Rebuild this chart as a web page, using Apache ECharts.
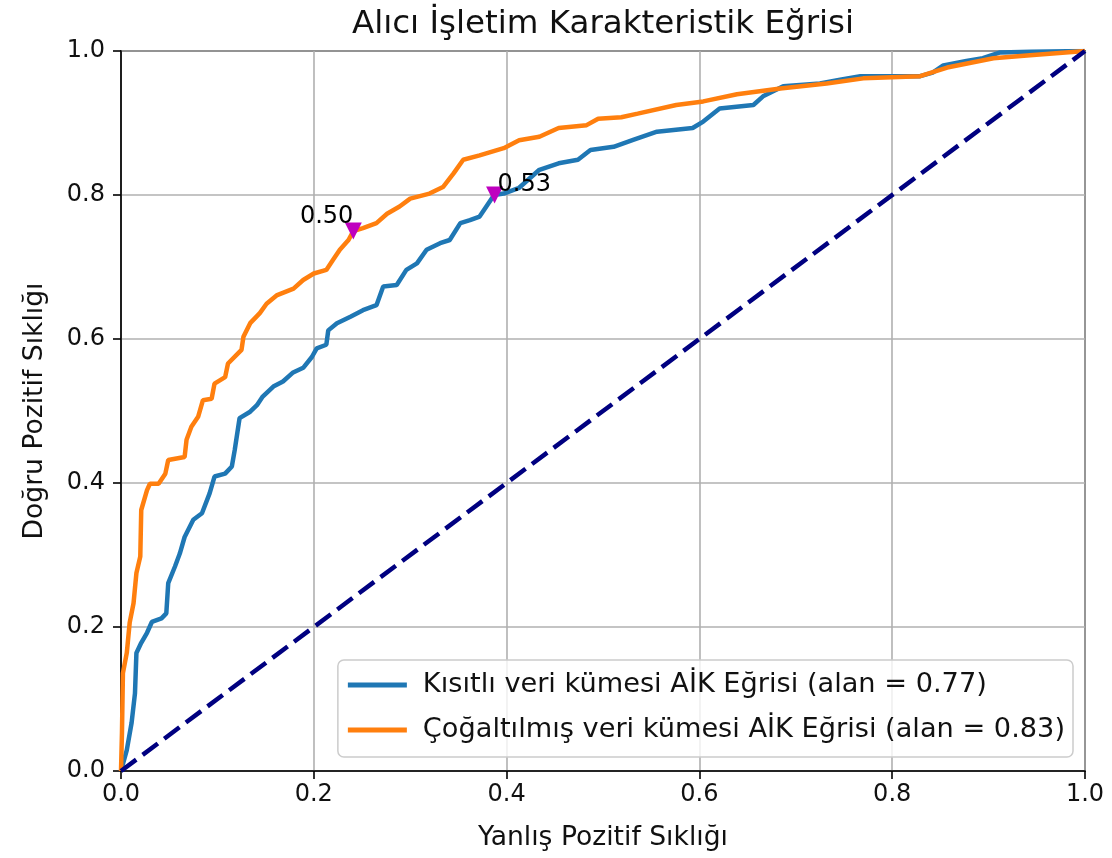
<!DOCTYPE html>
<html>
<head>
<meta charset="utf-8">
<script src="https://cdn.jsdelivr.net/npm/echarts@6/dist/echarts.min.js"></script>
<style>
html,body{margin:0;padding:0;background:#fff;}
#chart{width:1112px;height:858px;}
</style>
</head>
<body>
<div id="chart"></div>
<script>
// ---- Data ----
const titleText = 'Alıcı İşletim Karakteristik Eğrisi';
const xAxisName = 'Yanlış Pozitif Sıklığı';
const yAxisName = 'Doğru Pozitif Sıklığı';
const seriesNames = ['Kısıtlı veri kümesi AİK Eğrisi (alan = 0.77)', 'Çoğaltılmış veri kümesi AİK Eğrisi (alan = 0.83)'];

const limitedFpr = [0,0.006,0.011,0.0145,0.016,0.021,0.027,0.032,0.042,0.047,0.049,0.056,0.061,0.066,0.075,0.084,0.092,0.097,0.108,0.115,0.118,0.123,0.134,0.141,0.147,0.158,0.168,0.178,0.189,0.198,0.203,0.213,0.215,0.224,0.238,0.251,0.265,0.272,0.286,0.296,0.307,0.317,0.331,0.341,0.352,0.362,0.372,0.379,0.387,0.397,0.413,0.434,0.454,0.474,0.487,0.511,0.532,0.556,0.593,0.604,0.621,0.656,0.666,0.687,0.725,0.746,0.767,0.829,0.842,0.853,0.877,0.894,0.912,0.944,1];
const limitedTpr = [0,0.029,0.067,0.108,0.164,0.178,0.192,0.207,0.212,0.219,0.261,0.284,0.302,0.325,0.349,0.358,0.386,0.409,0.413,0.423,0.446,0.49,0.499,0.508,0.52,0.534,0.541,0.553,0.56,0.575,0.587,0.592,0.612,0.622,0.631,0.64,0.647,0.673,0.675,0.696,0.705,0.724,0.733,0.7375,0.761,0.765,0.77,0.784,0.8,0.802,0.81,0.835,0.844,0.849,0.8625,0.867,0.877,0.888,0.893,0.902,0.92,0.925,0.937,0.951,0.955,0.96,0.965,0.965,0.97,0.98,0.986,0.99,0.998,0.999,1];

const augmentedFpr = [0,0.001,0.002,0.006,0.009,0.013,0.016,0.02,0.021,0.027,0.03,0.039,0.046,0.049,0.066,0.068,0.073,0.08,0.085,0.094,0.097,0.108,0.111,0.125,0.127,0.134,0.144,0.151,0.162,0.179,0.189,0.2,0.213,0.22,0.227,0.236,0.241,0.251,0.265,0.276,0.289,0.3,0.32,0.334,0.345,0.355,0.372,0.397,0.413,0.434,0.454,0.483,0.495,0.519,0.536,0.576,0.604,0.639,0.684,0.732,0.77,0.829,0.857,0.905,0.943,1];
const augmentedTpr = [0,0.053,0.136,0.164,0.206,0.233,0.275,0.298,0.3625,0.39,0.399,0.399,0.413,0.432,0.436,0.46,0.478,0.492,0.515,0.517,0.538,0.547,0.566,0.585,0.603,0.622,0.636,0.649,0.661,0.67,0.682,0.691,0.696,0.71,0.724,0.7375,0.75,0.754,0.761,0.774,0.784,0.795,0.802,0.811,0.83,0.849,0.855,0.865,0.876,0.881,0.893,0.897,0.906,0.908,0.913,0.925,0.93,0.94,0.948,0.955,0.962,0.965,0.977,0.99,0.994,1];

const chanceX = [0, 1];
const chanceY = [0, 1];

// threshold markers
const thresholdFpr = [0.241, 0.3875];
const thresholdTpr = [0.75, 0.80];
const thresholdLabels = ['0.50', '0.53'];

const tickValues = [0, 0.2, 0.4, 0.6, 0.8, 1.0];

// ---- Build ----
const zip = (xs, ys) => xs.map((x, i) => [x, ys[i]]);
const FONT = 'DejaVu Sans';
const TXT = '#111';
const chart = echarts.init(document.getElementById('chart'), null, {renderer: 'canvas'});

const axisCommon = {
  type: 'value', min: tickValues[0], max: tickValues[tickValues.length - 1], interval: 0.2,
  nameLocation: 'middle',
  nameTextStyle: {fontFamily: FONT, fontSize: 26.6, color: TXT},
  axisLine: {show: true, onZero: false, lineStyle: {color: '#000', width: 1.6}},
  axisTick: {show: true, inside: false, length: 8, lineStyle: {color: '#000', width: 1.6}},
  axisLabel: {fontFamily: FONT, fontSize: 24, color: TXT, formatter: v => v.toFixed(1)},
  splitLine: {show: true, lineStyle: {color: '#b0b0b0', width: 1.6}}
};

const annLabel = (i) => ({
  show: true, formatter: thresholdLabels[i], position: 'inside',
  fontFamily: FONT, fontSize: 24, color: '#000', textBorderWidth: 0,
  align: i === 0 ? 'right' : 'left', verticalAlign: 'bottom',
  offset: i === 0 ? [0, -2] : [3, 2]
});

const option = {
  backgroundColor: '#fff',
  animation: false,
  title: {
    text: titleText, left: 603, top: 8, textAlign: 'center', padding: 0,
    textStyle: {fontFamily: FONT, fontSize: 32.5, fontWeight: 'normal', color: TXT}
  },
  grid: {left: 121, right: 27, top: 51, bottom: 87, show: true, borderColor: '#000', borderWidth: 1.6, containLabel: false},
  xAxis: Object.assign({}, axisCommon, {name: xAxisName, nameGap: 54, axisLabel: Object.assign({}, axisCommon.axisLabel, {margin: 12})}),
  yAxis: Object.assign({}, axisCommon, {name: yAxisName, nameGap: 72, axisLabel: Object.assign({}, axisCommon.axisLabel, {margin: 16})}),
  legend: {
    data: seriesNames,
    orient: 'vertical', right: 39, bottom: 101,
    icon: 'rect', itemWidth: 59, itemHeight: 5, itemGap: 13,
    padding: [9, 8, 11, 10],
    backgroundColor: 'rgba(255,255,255,0.8)', borderColor: '#cccccc', borderWidth: 1.5, borderRadius: 6,
    textStyle: {fontFamily: FONT, fontSize: 27.2, lineHeight: 32, color: TXT, padding: [0, 0, 0, 11]}
  },
  series: [
    {name: seriesNames[0], type: 'line', data: zip(limitedFpr, limitedTpr), showSymbol: false, symbol: 'none',
     lineStyle: {color: '#1f77b4', width: 4.5}, itemStyle: {color: '#1f77b4'}, z: 3},
    {name: seriesNames[1], type: 'line', data: zip(augmentedFpr, augmentedTpr), showSymbol: false, symbol: 'none',
     lineStyle: {color: '#ff7f0e', width: 4.5}, itemStyle: {color: '#ff7f0e'}, z: 4},
    {name: 'chance', type: 'line', data: zip(chanceX, chanceY), showSymbol: false, symbol: 'none',
     lineStyle: {color: '#000080', width: 4.5, type: [19, 8]}, z: 5},
    {name: 'thresholds', type: 'scatter',
     data: zip(thresholdFpr, thresholdTpr).map((p, i) => ({value: p, label: annLabel(i)})),
     symbol: 'triangle', symbolRotate: 180, symbolSize: 17, itemStyle: {color: '#bf00bf', opacity: 1},
     emphasis: {disabled: true}, z: 6}
  ]
};
chart.setOption(option);
</script>
</body>
</html>
